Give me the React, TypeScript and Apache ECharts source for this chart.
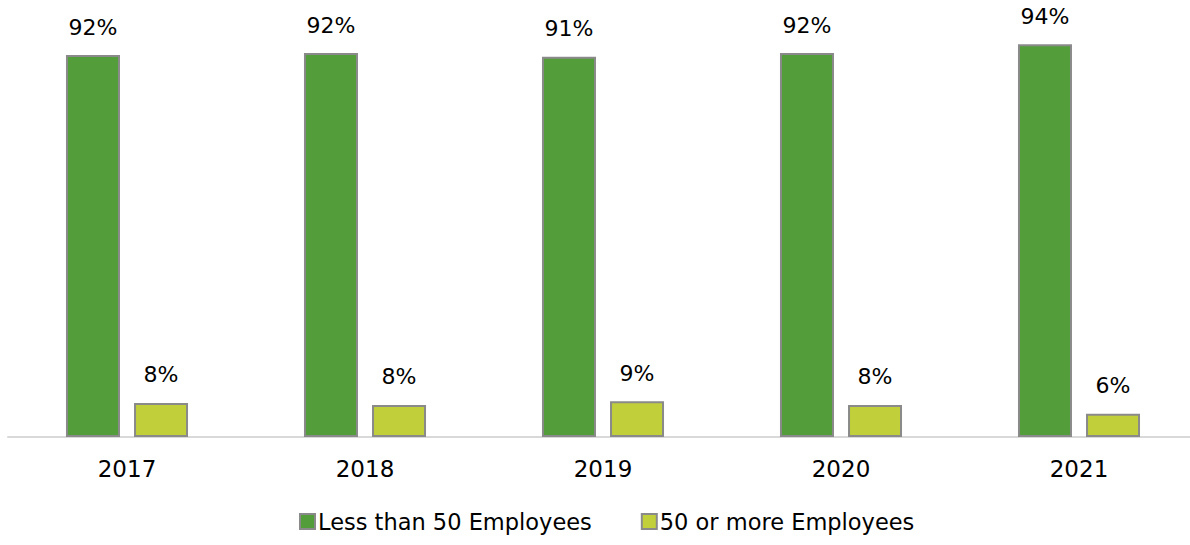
import React, { useEffect, useRef } from "react";
import * as echarts from "echarts";

const categories = ["2017", "2018", "2019", "2020", "2021"];
const lessThan50 = [91.8, 92.3, 91.4, 92.3, 94.4];
const fiftyOrMore = [8.2, 7.7, 8.6, 7.7, 5.6];
const seriesNames = ["Less than 50 Employees", "50 or more Employees"];

const FONT = "'DejaVu Sans', 'Noto Sans', sans-serif";

export default function App() {
  const ref = useRef<HTMLDivElement>(null);
  useEffect(() => {
    if (!ref.current) return;
    const chart = echarts.init(ref.current, null, { renderer: "svg" });
    const label = {
      show: true,
      position: "top",
      distance: 17,
      color: "#000",
      fontSize: 22,
      fontFamily: FONT,
      formatter: (p: any) => Math.round(p.value) + "%",
    };
    chart.setOption({
      animation: false,
      textStyle: { fontFamily: FONT },
      grid: { left: 8, right: 0, top: 21, bottom: 108, containLabel: false },
      legend: {
        bottom: 7,
        left: 294,
        itemWidth: 15,
        itemHeight: 15,
        itemGap: 49,
        textStyle: { fontSize: 22.5, color: "#000", fontFamily: FONT, padding: [0, 0, 0, -2] },
        data: seriesNames.map((n) => ({ name: n, icon: "rect" })),
      },
      xAxis: {
        type: "category",
        data: categories,
        axisLine: { show: true, lineStyle: { color: "#d9d9d9", width: 2 } },
        axisTick: { show: false },
        axisLabel: { fontSize: 23, color: "#000", margin: 20, fontFamily: FONT },
      },
      yAxis: {
        type: "value",
        min: 0,
        max: 100,
        show: false,
        splitLine: { show: false },
      },
      series: [
        {
          name: seriesNames[0],
          type: "bar",
          data: lessThan50,
          barWidth: 54,
          barGap: "26%",
          itemStyle: { color: "#539E3A", borderColor: "#8a8a8a", borderWidth: 2 },
          label,
        },
        {
          name: seriesNames[1],
          type: "bar",
          data: fiftyOrMore,
          barWidth: 54,
          itemStyle: { color: "#C1CF3A", borderColor: "#8a8a8a", borderWidth: 2 },
          label,
        },
      ],
    });
    return () => chart.dispose();
  }, []);
  return (
    <div style={{ width: 1190, height: 545, position: "absolute", left: 0, top: 0, overflow: "hidden" }}>
      <div ref={ref} style={{ width: 1198, height: 545 }} />
    </div>
  );
}
